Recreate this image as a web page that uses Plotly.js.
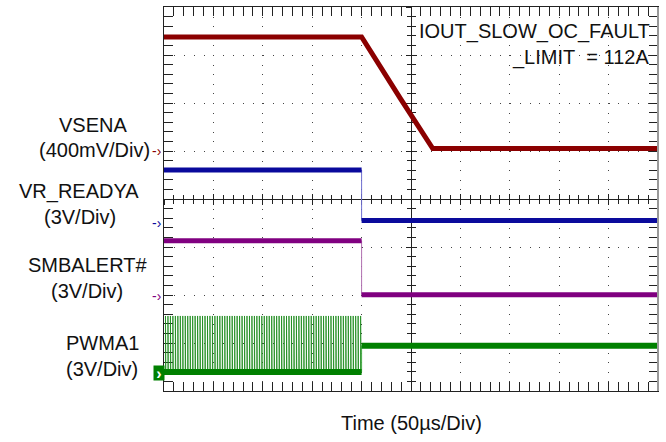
<!DOCTYPE html>
<html><head><meta charset="utf-8">
<script src="https://cdn.plot.ly/plotly-3.0.1.min.js"></script>
<style>html,body{margin:0;padding:0;background:#fff;}#chart{width:666px;height:442px;}</style>
</head><body><div id="chart"></div>
<script>
// Time base: 50 us/div, 10 divisions
const timeRangeUs = [0, 500];

// VSENA (400 mV/div)
const vsenaTimeUs = [0, 200, 239, 272, 500];
const vsenaVolts  = [0.95, 0.95, 0.44, 0.02, 0.02];

// VR_READYA (3 V/div)
const vrReadyTimeUs = [0, 200, 200, 500];
const vrReadyVolts  = [3.31, 3.31, 0.15, 0.15];

// SMBALERT# (3 V/div)
const smbAlertTimeUs = [0, 200, 200, 500];
const smbAlertVolts  = [3.48, 3.48, 0.10, 0.10];

// PWMA1 (3 V/div)
const pwmLevelTimeUs = [0, 200, 200, 500];
const pwmLevelVolts  = [0.05, 0.05, 1.69, 1.69];
const pwmPulseStartUs = [1.5,4,6.5,9,11.5,14,16.5,19,21.5,24,26.5,29,31.5,34,36.5,39,41.5,44,46.5,49,
  51.5,54,56.5,59,61.5,64,66.5,69,71.5,74,76.5,79,81.5,84,86.5,89,91.5,94,96.5,99,
  101.5,104,106.5,109,111.5,114,116.5,119,121.5,124,126.5,129,131.5,134,136.5,139,141.5,144,146.5,149,
  151.5,154,156.5,159,161.5,164,166.5,169,171.5,174,176.5,179,181.5,184,186.5,189,191.5,194,196.5,199];
const pwmPulseWidthUs = 0.4;
const pwmPulseHighV = 3.55;
const pwmPulseLowV = 0.05;

// Channel labels
const channelNames = ['VSENA', 'VR_READYA', 'SMBALERT#', 'PWMA1'];
const channelScaleText = ['(400mV/Div)', '(3V/Div)', '(3V/Div)', '(3V/Div)'];
const faultText = ['IOUT_SLOW_OC_FAULT', '_LIMIT\u00a0 = 112A'];
const timeAxisText = 'Time (50\u00b5s/Div)';

// scope settings: V/div and ground position (divisions from bottom)
const chScale  = [0.4, 3, 3, 3];
const chGround = [5.0, 3.5, 1.97, 0.38];
const chColor  = ['#8b0000', '#0a0a9c', '#800080', '#008000'];
const chEdge   = ['#8b0000', '#6f6fd0', '#b070b0', '#4caf4c'];
const FONT = 'Liberation Sans, Arial, sans-serif';

function levels(t, v) {
  const x = [], y = [];
  for (let i = 0; i < t.length; i++) {
    if (i > 0 && t[i] === t[i-1]) { x.push(null); y.push(null); }
    x.push(t[i]); y.push(v[i]);
  }
  return {x, y};
}

const dummy = (xa, ya) => ({x: [-1000], y: [-1000], xaxis: xa, yaxis: ya, mode: 'lines',
  hoverinfo: 'skip', showlegend: false});

// main grid subplot first, then the centre-cross axes
const traces = [dummy('x', 'y'), dummy('x2', 'y'), dummy('x3', 'y'), dummy('x', 'y6'), dummy('x', 'y7')];

const stepData = [
  [vsenaTimeUs, vsenaVolts],
  [vrReadyTimeUs, vrReadyVolts],
  [smbAlertTimeUs, smbAlertVolts],
  [pwmLevelTimeUs, pwmLevelVolts]
];

// PWM pulses
(function(){
  const x = [], y = [];
  pwmPulseStartUs.forEach(s => {
    x.push(s, s, s + pwmPulseWidthUs, s + pwmPulseWidthUs, null);
    y.push(pwmPulseLowV, pwmPulseHighV, pwmPulseHighV, pwmPulseLowV, null);
  });
  traces.push({x, y, xaxis: 'x', yaxis: 'y5', mode: 'lines', line: {color: 'rgba(30,140,30,0.85)', width: 1},
    hoverinfo: 'skip', showlegend: false});
})();

stepData.forEach((d, i) => {
  const ya = 'y' + (i + 2);
  traces.push({x: d[0], y: d[1], xaxis: 'x', yaxis: ya, mode: 'lines',
    line: {color: chEdge[i], width: 1}, hoverinfo: 'skip', showlegend: false});
  const lv = levels(d[0], d[1]);
  traces.push({x: lv.x, y: lv.y, xaxis: 'x', yaxis: ya, mode: 'lines', connectgaps: false,
    line: {color: chColor[i], width: i === 3 ? 6 : 5}, hoverinfo: 'skip', showlegend: false});
});

const L = 164, R = 658, T = 7, B = 391;
const X = px => (px - L) / (R - L);
const Y = py => (B - py) / (B - T);

const axisBase = {showticklabels: false, zeroline: false, fixedrange: true, layer: 'below traces'};

const layout = {
  width: 666, height: 442,
  margin: {l: L, r: 666 - R, t: T, b: 442 - B, pad: 0},
  paper_bgcolor: '#fff', plot_bgcolor: '#fff',
  showlegend: false,
  font: {family: FONT, color: '#111', size: 20},
  xaxis: Object.assign({}, axisBase, {
    range: timeRangeUs, dtick: 50, tick0: 0,
    showgrid: true, gridcolor: '#444', gridwidth: 1, griddash: '1px,8.6px',
    ticks: 'inside', ticklen: 9, tickwidth: 1, tickcolor: '#222',
    minor: {dtick: 10, tick0: 0, ticks: 'inside', ticklen: 5, tickcolor: '#222', showgrid: false},
    showline: true, linecolor: '#222', linewidth: 1, mirror: 'allticks'
  }),
  yaxis: Object.assign({}, axisBase, {
    range: [0, 8], dtick: 1, tick0: 0,
    showgrid: true, gridcolor: '#444', gridwidth: 1, griddash: '1px,8.88px',
    ticks: 'inside', ticklen: 9, tickwidth: 1, tickcolor: '#222',
    minor: {dtick: 0.2, tick0: 0, ticks: 'inside', ticklen: 5, tickcolor: '#222', showgrid: false},
    showline: true, linecolor: '#222', linewidth: 1, mirror: 'allticks'
  }),
  xaxis2: Object.assign({}, axisBase, {
    overlaying: 'x', anchor: 'free', position: 0.5, range: timeRangeUs, dtick: 50, tick0: 0,
    showgrid: false, ticks: 'inside', ticklen: 5, tickcolor: '#222',
    minor: {dtick: 10, tick0: 0, ticks: 'inside', ticklen: 4, tickcolor: '#222'},
    showline: true, linecolor: '#222', linewidth: 1
  }),
  xaxis3: Object.assign({}, axisBase, {
    overlaying: 'x', anchor: 'free', position: 0.5, range: timeRangeUs, dtick: 50, tick0: 0,
    showgrid: false, ticks: 'outside', ticklen: 5, tickcolor: '#222',
    minor: {dtick: 10, tick0: 0, ticks: 'outside', ticklen: 4, tickcolor: '#222'},
    showline: false
  }),
  yaxis6: Object.assign({}, axisBase, {
    overlaying: 'y', anchor: 'free', position: 0.5, range: [0, 8], dtick: 1, tick0: 0,
    showgrid: false, ticks: 'inside', ticklen: 5, tickcolor: '#222',
    minor: {dtick: 0.2, tick0: 0, ticks: 'inside', ticklen: 4, tickcolor: '#222'},
    showline: true, linecolor: '#222', linewidth: 1
  }),
  yaxis7: Object.assign({}, axisBase, {
    overlaying: 'y', anchor: 'free', position: 0.5, range: [0, 8], dtick: 1, tick0: 0,
    showgrid: false, ticks: 'outside', ticklen: 5, tickcolor: '#222',
    minor: {dtick: 0.2, tick0: 0, ticks: 'outside', ticklen: 4, tickcolor: '#222'},
    showline: false
  }),
  annotations: [],
  shapes: [
    {type: 'line', xref: 'paper', yref: 'paper', x0: 1, x1: 1, y0: 0, y1: 1, line: {color: '#999', width: 2}, layer: 'above'}
  ]
};

chScale.forEach((s, i) => {
  layout['yaxis' + (i + 2)] = {overlaying: 'y', visible: false, fixedrange: true,
    range: [-chGround[i] * s, (8 - chGround[i]) * s]};
});

// left labels
const labelPos = [[92.5, 124.5, 94, 150], [78.5, 191, 80, 216.5], [87.5, 265, 86.5, 290.5], [102, 343, 101.5, 368.5]];
channelNames.forEach((n, i) => {
  const p = labelPos[i];
  layout.annotations.push({text: n, xref: 'paper', yref: 'paper', x: X(p[0]), y: Y(p[1]),
    xanchor: 'center', yanchor: 'middle', showarrow: false, font: {family: FONT, size: 20, color: '#111'}});
  layout.annotations.push({text: channelScaleText[i], xref: 'paper', yref: 'paper', x: X(p[2]), y: Y(p[3]),
    xanchor: 'center', yanchor: 'middle', showarrow: false, font: {family: FONT, size: 20, color: '#111'}});
});

// ground markers
[0, 1, 2].forEach(i => {
  layout.annotations.push({text: '-\u203a', xref: 'paper', yref: 'y' + (i + 2), x: X(157), y: 0,
    xanchor: 'center', yanchor: 'middle', showarrow: false, font: {family: FONT, size: 14, color: chColor[i]}});
});
layout.annotations.push({text: '<b>\u203a</b>', xref: 'paper', yref: 'y5', x: X(158.5), y: 0,
  xanchor: 'center', yanchor: 'middle', showarrow: false, bgcolor: '#008000', width: 10, height: 14,
  borderpad: 0, font: {family: FONT, size: 16, color: '#fff'}});

// fault text
layout.annotations.push({text: faultText[0], xref: 'paper', yref: 'paper', x: X(652), y: Y(32),
  xanchor: 'right', yanchor: 'middle', showarrow: false, font: {family: FONT, size: 20, color: '#111'}});
layout.annotations.push({text: faultText[1], xref: 'paper', yref: 'paper', x: X(651), y: Y(57),
  xanchor: 'right', yanchor: 'middle', showarrow: false, font: {family: FONT, size: 20, color: '#111'}});

// time label
layout.annotations.push({text: timeAxisText, xref: 'paper', yref: 'paper', x: X(411.5), y: Y(422.5),
  xanchor: 'center', yanchor: 'middle', showarrow: false, font: {family: FONT, size: 20, color: '#111'}});

Plotly.newPlot('chart', traces, layout, {displayModeBar: false, staticPlot: true});
</script></body></html>
